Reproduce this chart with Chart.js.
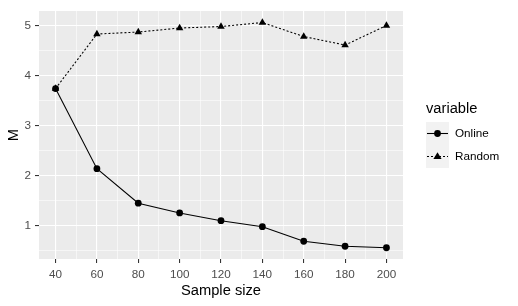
<!DOCTYPE html>
<html>
<head>
<meta charset="utf-8">
<script src="https://cdn.jsdelivr.net/npm/chart.js@4/dist/chart.umd.min.js"></script>
<style>
html,body{margin:0;padding:0;background:#fff;}
canvas{display:block;}
</style>
</head>
<body>
<canvas id="c" width="518" height="306"></canvas>
<script>
const sampleSizes = [40, 60, 80, 100, 120, 140, 160, 180, 200];
const onlineM = [3.74, 2.14, 1.45, 1.255, 1.10, 0.98, 0.69, 0.59, 0.56];
const randomM = [3.74, 4.83, 4.87, 4.95, 4.98, 5.06, 4.78, 4.61, 5.00];
const seriesNames = ['Online', 'Random'];
const xMajorTicks = [40, 60, 80, 100, 120, 140, 160, 180, 200];
const xMinorTicks = [50, 70, 90, 110, 130, 150, 170, 190];
const yMajorTicks = [1, 2, 3, 4, 5];
const yMinorTicks = [0.5, 1.5, 2.5, 3.5, 4.5];
const xTitle = 'Sample size';
const yTitle = 'M';
const legendTitle = 'variable';

const FONT = "'Liberation Sans', Arial, sans-serif";

const panelBg = {
  id: 'panelBg',
  beforeDraw(chart) {
    const {ctx, chartArea: a} = chart;
    ctx.save();
    ctx.fillStyle = '#fff';
    ctx.fillRect(0, 0, chart.width, chart.height);
    ctx.fillStyle = '#EBEBEB';
    ctx.fillRect(a.left, a.top, a.right - a.left, a.bottom - a.top);
    ctx.restore();
  }
};

const ggLegend = {
  id: 'ggLegend',
  afterDraw(chart) {
    const ctx = chart.ctx;
    ctx.save();
    ctx.fillStyle = '#000';
    ctx.font = '14.7px ' + FONT;
    ctx.textBaseline = 'middle';
    ctx.textAlign = 'left';
    ctx.fillText(legendTitle, 426, 109);
    const keyX = 426, keyW = 23, keyH = 23;
    const tops = [122, 145];
    chart.data.datasets.forEach((ds, i) => {
      const top = tops[i];
      ctx.fillStyle = '#F2F2F2';
      ctx.fillRect(keyX, top, keyW, keyH);
      const cy = top + keyH / 2;
      ctx.strokeStyle = '#000';
      ctx.lineWidth = 1.07;
      ctx.setLineDash(ds.borderDash || []);
      ctx.beginPath();
      ctx.moveTo(keyX + 1, cy);
      ctx.lineTo(keyX + keyW - 1, cy);
      ctx.stroke();
      ctx.setLineDash([]);
      ctx.fillStyle = '#000';
      if (ds.pointStyle === 'triangle') {
        const r = 4.3;
        ctx.beginPath();
        ctx.moveTo(keyX + keyW / 2, cy - r);
        ctx.lineTo(keyX + keyW / 2 + r * 0.95, cy + r * 0.6);
        ctx.lineTo(keyX + keyW / 2 - r * 0.95, cy + r * 0.6);
        ctx.closePath();
        ctx.fill();
      } else {
        ctx.beginPath();
        ctx.arc(keyX + keyW / 2, cy, 3.4, 0, Math.PI * 2);
        ctx.fill();
      }
      ctx.font = '11.7px ' + FONT;
      ctx.fillText(ds.label, 455, cy);
    });
    ctx.restore();
  }
};

const isMajorX = v => xMajorTicks.includes(v);
const isMajorY = v => yMajorTicks.includes(v);

new Chart(document.getElementById('c'), {
  type: 'line',
  data: {
    datasets: [
      {
        label: seriesNames[0],
        data: sampleSizes.map((x, i) => ({x, y: onlineM[i]})),
        borderColor: '#000', backgroundColor: '#000',
        borderWidth: 1.07, pointStyle: 'circle', pointRadius: 3.4,
        pointBorderWidth: 0, tension: 0
      },
      {
        label: seriesNames[1],
        data: sampleSizes.map((x, i) => ({x, y: randomM[i]})),
        borderColor: '#000', backgroundColor: '#000',
        borderWidth: 1.07, borderDash: [2, 2], pointStyle: 'triangle', pointRadius: 4.3,
        pointBorderWidth: 0, tension: 0
      }
    ]
  },
  options: {
    responsive: false,
    animation: false,
    layout: {padding: {left: 0, top: 6, right: 115, bottom: 0}},
    plugins: {legend: {display: false}, tooltip: {enabled: false}},
    scales: {
      x: {
        type: 'linear', min: 32, max: 208,
        afterBuildTicks(s) { s.ticks = xMajorTicks.concat(xMinorTicks).sort((a, b) => a - b).map(v => ({value: v})); },
        afterFit(s) { s.height = 47; },
        border: {display: false},
        grid: {
          color: '#fff',
          lineWidth: c => isMajorX(c.tick.value) ? 1.1 : 0.55,
          tickColor: c => isMajorX(c.tick.value) ? '#333333' : 'rgba(0,0,0,0)',
          tickWidth: 1.07, tickLength: 4, drawTicks: true
        },
        ticks: {
          autoSkip: false, maxRotation: 0, padding: 4.5,
          color: '#4D4D4D', font: {family: FONT, size: 11.7},
          callback: v => isMajorX(v) ? String(v) : ''
        },
        title: {display: true, text: xTitle, color: '#000', font: {family: FONT, size: 14.7}, padding: 6}
      },
      y: {
        type: 'linear', min: 0.335, max: 5.29,
        afterBuildTicks(s) { s.ticks = yMajorTicks.concat(yMinorTicks).sort((a, b) => a - b).map(v => ({value: v})); },
        afterFit(s) { s.width = 39; },
        border: {display: false},
        grid: {
          color: '#fff',
          lineWidth: c => isMajorY(c.tick.value) ? 1.1 : 0.55,
          tickColor: c => isMajorY(c.tick.value) ? '#333333' : 'rgba(0,0,0,0)',
          tickWidth: 1.07, tickLength: 4, drawTicks: true
        },
        ticks: {
          autoSkip: false, padding: 4,
          color: '#4D4D4D', font: {family: FONT, size: 11.7},
          callback: v => isMajorY(v) ? String(v) : ''
        },
        title: {display: true, text: yTitle, color: '#000', font: {family: FONT, size: 14.7}, padding: 5}
      }
    }
  },
  plugins: [panelBg, ggLegend]
});
</script>
</body>
</html>
